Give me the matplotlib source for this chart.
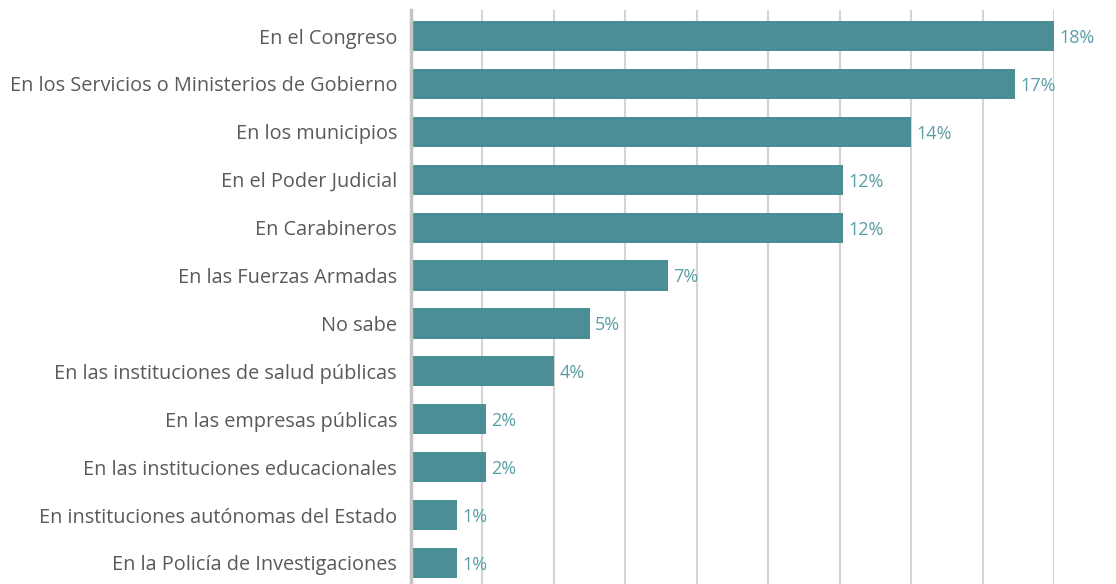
import matplotlib
matplotlib.use("Agg")
import matplotlib.pyplot as plt

plt.rcParams['font.family'] = ['Open Sans', 'DejaVu Sans']

# datos (de arriba hacia abajo)
categorias = [
    "En el Congreso",
    "En los Servicios o Ministerios de Gobierno",
    "En los municipios",
    "En el Poder Judicial",
    "En Carabineros",
    "En las Fuerzas Armadas",
    "No sabe",
    "En las instituciones de salud públicas",
    "En las empresas públicas",
    "En las instituciones educacionales",
    "En instituciones autónomas del Estado",
    "En la Policía de Investigaciones",
]
valores = [18.0, 16.9, 14.0, 12.1, 12.1, 7.2, 5.0, 4.0, 2.1, 2.1, 1.3, 1.3]
etiquetas = ["18%", "17%", "14%", "12%", "12%", "7%", "5%", "4%", "2%", "2%", "1%", "1%"]

color_barra = '#4b8e95'
color_valor = '#5a9ea5'
color_texto = '#5a5a5a'

fig = plt.figure(figsize=(11.16, 5.84), dpi=100)
ax = fig.add_axes([411 / 1116, 0.0, (1054 - 411) / 1116, 1 - 10 / 584])

pos = list(range(len(categorias)))
ax.barh(pos, valores, height=0.63, color=color_barra, zorder=3)

for y, v, t in zip(pos, valores, etiquetas):
    ax.text(v + 0.15, y + 0.04, t, va='center', ha='left', fontsize=13,
            color=color_valor, clip_on=False)

ax.set_xlim(0, 18)
ax.set_ylim(11.44, -0.543)
ax.set_xticks(range(0, 19, 2))
ax.set_xticklabels([])
ax.tick_params(axis='x', length=0)
ax.set_yticks(pos)
ax.set_yticklabels(categorias, fontsize=14.3, color=color_texto)
for lbl in ax.get_yticklabels():
    lbl.set_y(lbl.get_position()[1])
ax.tick_params(axis='y', length=0, pad=10)

ax.grid(axis='x', color='#d4d4d4', linewidth=1.5, zorder=0)
for s in ['top', 'right', 'bottom']:
    ax.spines[s].set_visible(False)
ax.spines['left'].set_color('#c4c4c4')
ax.spines['left'].set_linewidth(2.5)
ax.spines['left'].set_zorder(4)

plt.savefig("out.png", dpi=100)
